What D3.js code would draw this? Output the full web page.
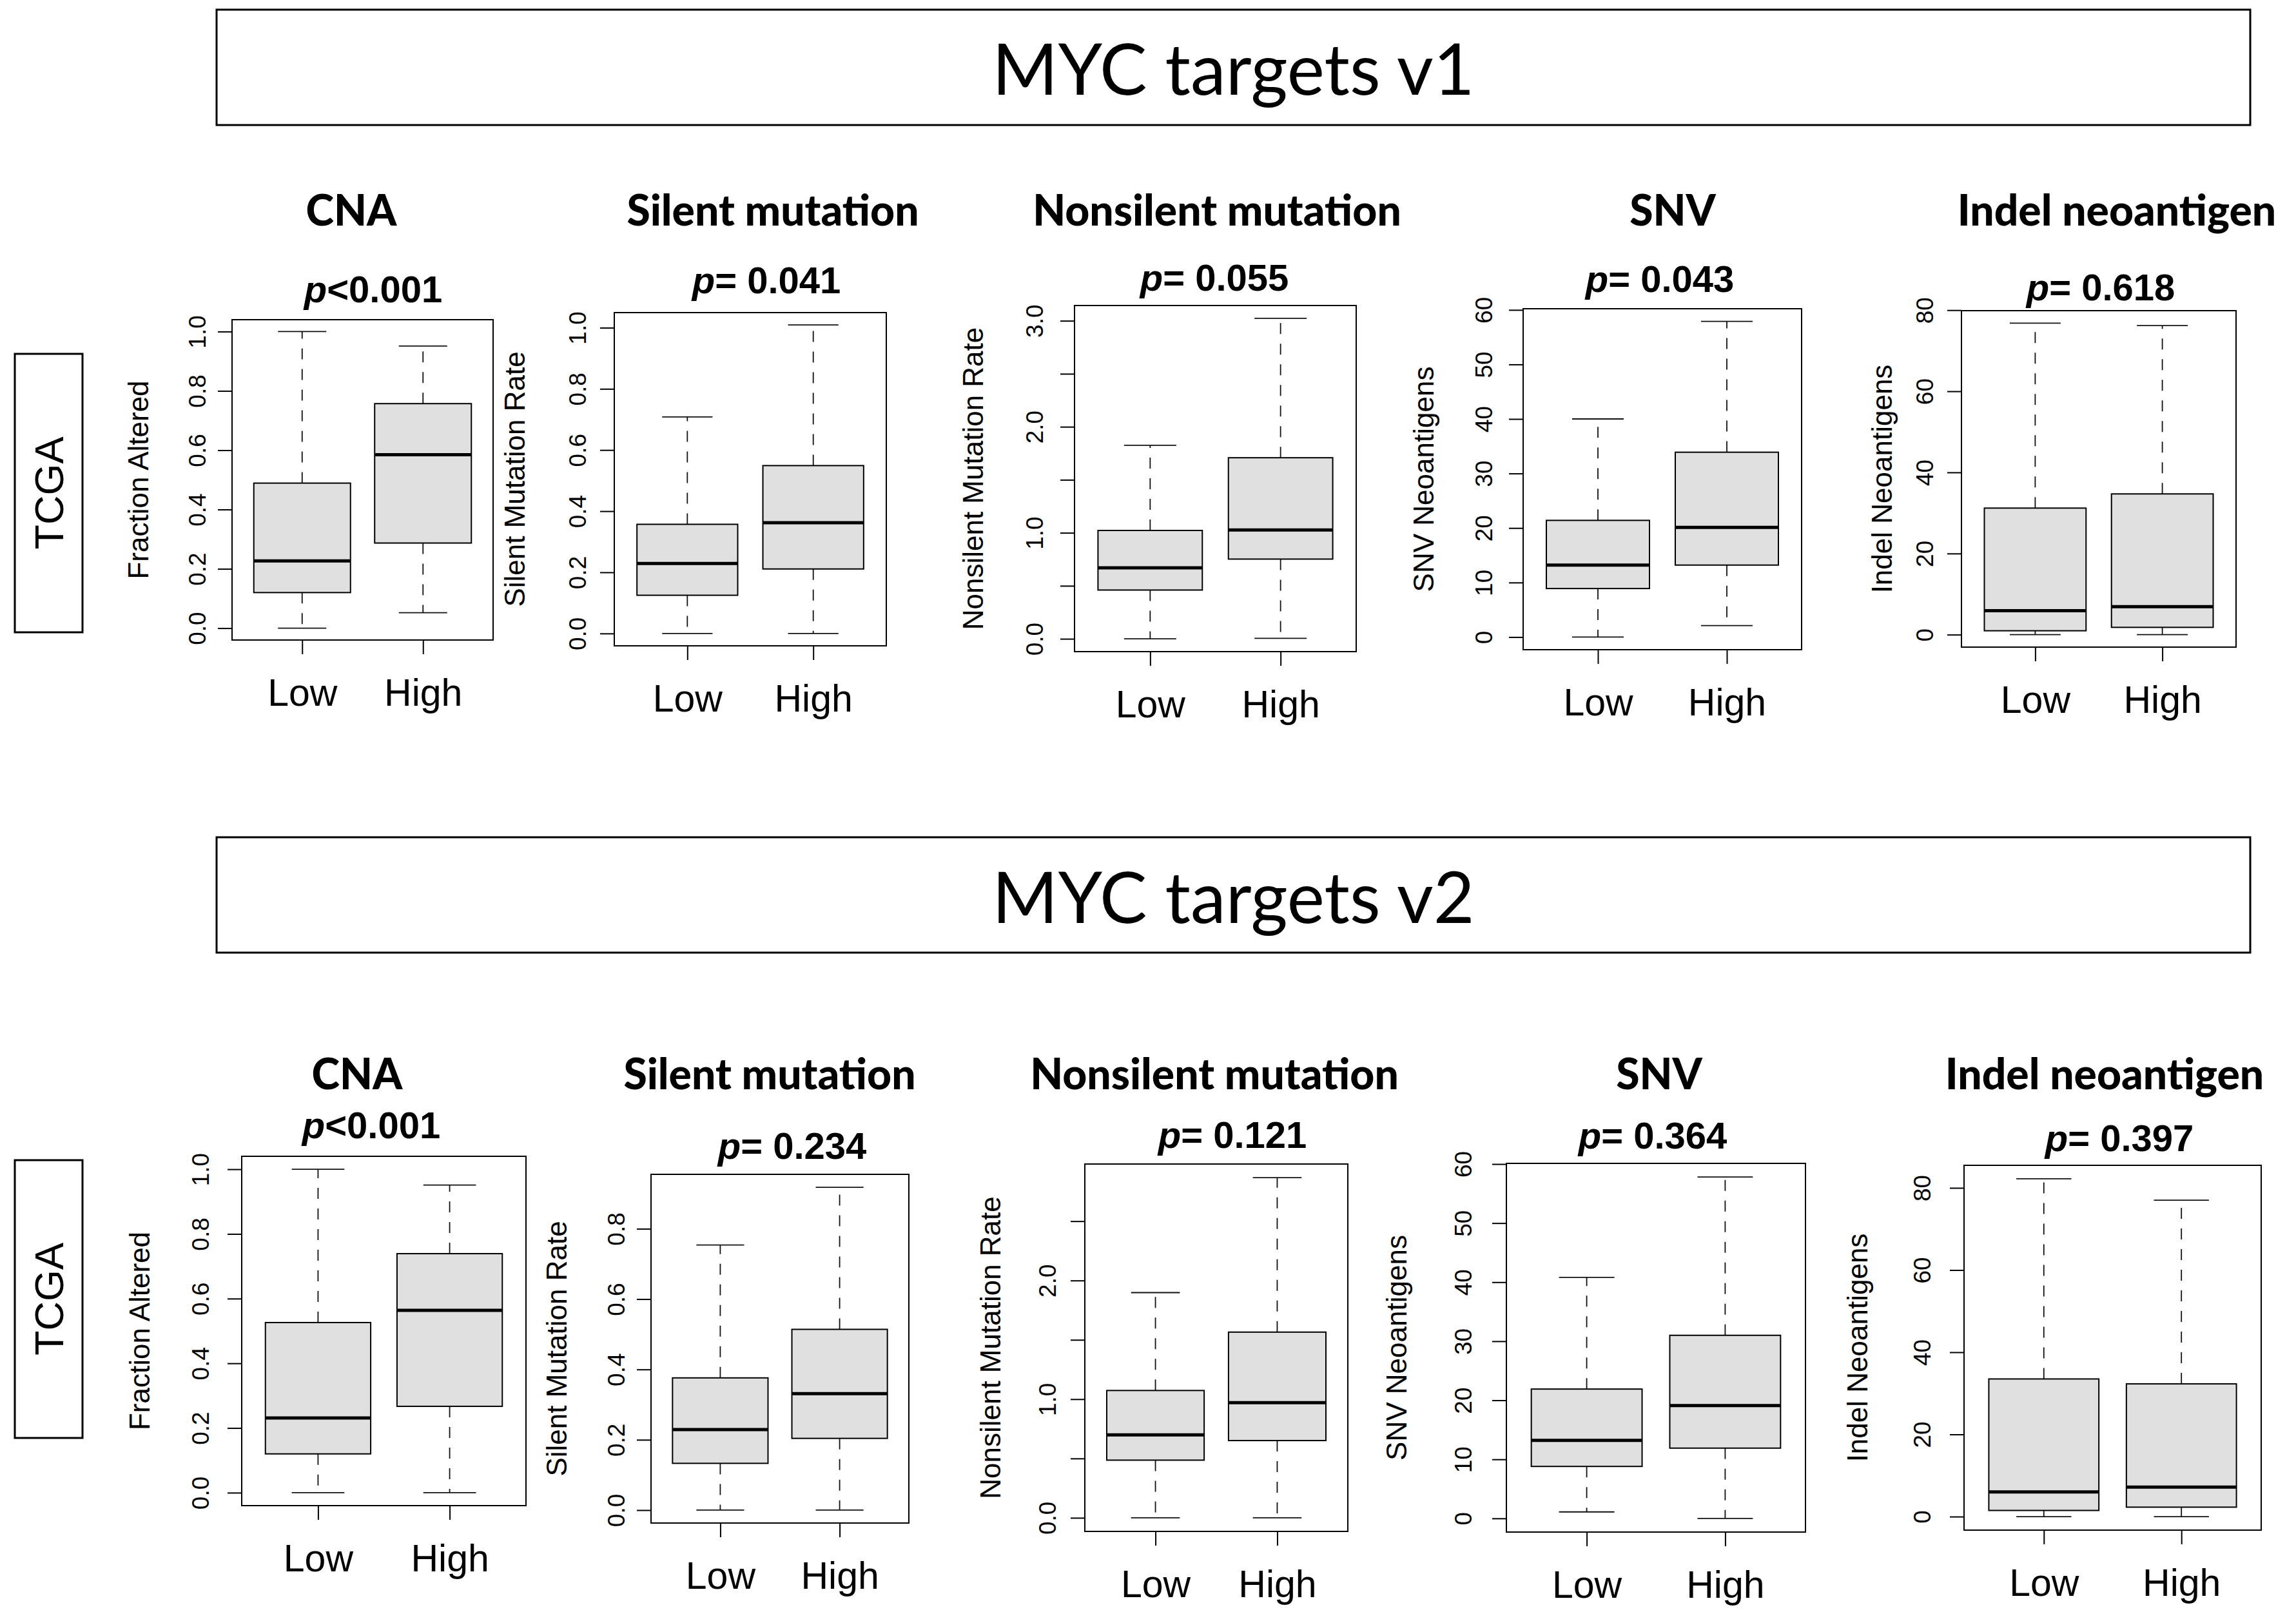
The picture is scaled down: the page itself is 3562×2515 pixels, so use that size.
<!DOCTYPE html>
<html>
<head>
<meta charset="utf-8">
<script src="https://cdn.jsdelivr.net/npm/d3@7"></script>
<style>
  body { margin: 0; background: #fff; }
</style>
</head>
<body>
<svg id="fig" width="3562" height="2515"></svg>
<script>
// boxplots of genomic features, Low vs High signature score

var groups = ["Low", "High"];
var signatures = ["MYC targets v1", "MYC targets v2"];
var cohort = "TCGA";
var metrics = ["CNA", "Silent mutation", "Nonsilent mutation", "SNV", "Indel neoantigen"];
var yTitles = ["Fraction Altered", "Silent Mutation Rate", "Nonsilent Mutation Rate", "SNV Neoantigens", "Indel Neoantigens"];

var pV1 = ["<0.001", "= 0.041", "= 0.055", "= 0.043", "= 0.618"];
var pV2 = ["<0.001", "= 0.234", "= 0.121", "= 0.364", "= 0.397"];

// [lower whisker, Q1, median, Q3, upper whisker] for Low, High
var v1_cna       = [[0, 0.12, 0.227, 0.489, 1.0],   [0.052, 0.287, 0.585, 0.757, 0.951]];
var v1_silent    = [[0, 0.125, 0.229, 0.357, 0.708],[0, 0.211, 0.362, 0.549, 1.009]];
var v1_nonsilent = [[0, 0.46, 0.669, 1.022, 1.825], [0.005, 0.752, 1.026, 1.708, 3.023]];
var v1_snv       = [[0, 8.9, 13.2, 21.4, 40.0],     [2.1, 13.2, 20.1, 33.9, 57.9]];
var v1_indel     = [[0, 0.96, 5.9, 31.2, 76.8],     [0, 1.8, 6.9, 34.7, 76.2]];

var v2_cna       = [[0, 0.12, 0.231, 0.526, 1.0],   [0, 0.267, 0.564, 0.739, 0.951]];
var v2_silent    = [[0, 0.133, 0.229, 0.376, 0.754],[0, 0.204, 0.331, 0.514, 0.918]];
var v2_nonsilent = [[0, 0.486, 0.699, 1.073, 1.898],[0, 0.651, 0.971, 1.565, 2.867]];
var v2_snv       = [[1.1, 8.8, 13.2, 21.9, 40.8],   [0, 11.9, 19.1, 31.0, 57.8]];
var v2_indel     = [[0, 1.5, 6.0, 33.5, 82.2],      [0, 2.3, 7.2, 32.3, 77.0]];

// y ticks and their labels ("" = tick without label)
var ticksFrac = [0, 0.2, 0.4, 0.6, 0.8, 1.0];
var labsFrac  = ["0.0", "0.2", "0.4", "0.6", "0.8", "1.0"];
var ticksSil2 = [0, 0.2, 0.4, 0.6, 0.8];
var labsSil2  = ["0.0", "0.2", "0.4", "0.6", "0.8"];
var ticksNon1 = [0, 0.5, 1, 1.5, 2, 2.5, 3];
var labsNon1  = ["0.0", "", "1.0", "", "2.0", "", "3.0"];
var ticksNon2 = [0, 0.5, 1, 1.5, 2, 2.5];
var labsNon2  = ["0.0", "", "1.0", "", "2.0", ""];
var ticksSnv  = [0, 10, 20, 30, 40, 50, 60];
var labsSnv   = ["0", "10", "20", "30", "40", "50", "60"];
var ticksInd  = [0, 20, 40, 60, 80];
var labsInd   = ["0", "20", "40", "60", "80"];

var rows = [
  { sig: signatures[0], p: pV1,
    stats: [v1_cna, v1_silent, v1_nonsilent, v1_snv, v1_indel],
    ticks: [ticksFrac, ticksFrac, ticksNon1, ticksSnv, ticksInd],
    labs:  [labsFrac, labsFrac, labsNon1, labsSnv, labsInd] },
  { sig: signatures[1], p: pV2,
    stats: [v2_cna, v2_silent, v2_nonsilent, v2_snv, v2_indel],
    ticks: [ticksFrac, ticksSil2, ticksNon2, ticksSnv, ticksInd],
    labs:  [labsFrac, labsSil2, labsNon2, labsSnv, labsInd] }
];

// page layout (pixels)
var layout = [
  { box: [336, 15, 3491, 194], titleY: 147, tcga: [23, 549, 128, 981], headY: 350,
    frames: [
      {x0: 360,  x1: 765,  y0: 496, y1: 993,  ylab: 215,  tick: 306,  tx: 545,  px: 579,  py: 469},
      {x0: 953,  x1: 1375, y0: 485, y1: 1002, ylab: 799,  tick: 896,  tx: 1199, px: 1189, py: 455},
      {x0: 1667, x1: 2104, y0: 474, y1: 1011, ylab: 1510, tick: 1605, tx: 1888, px: 1884, py: 451},
      {x0: 2363, x1: 2795, y0: 479, y1: 1008, ylab: 2209, tick: 2302, tx: 2595, px: 2575, py: 453},
      {x0: 3043, x1: 3469, y0: 482, y1: 1004, ylab: 2920, tick: 2986, tx: 3284, px: 3259, py: 466}
    ]},
  { box: [336, 1299, 3491, 1478], titleY: 1432, tcga: [23, 1800, 128, 2231], headY: 1690,
    frames: [
      {x0: 375,  x1: 816,  y0: 1794, y1: 2336, ylab: 217,  tick: 311,  tx: 554,  px: 576,  py: 1766},
      {x0: 1010, x1: 1410, y0: 1822, y1: 2363, ylab: 864,  tick: 956,  tx: 1194, px: 1229, py: 1798},
      {x0: 1683, x1: 2091, y0: 1806, y1: 2376, ylab: 1537, tick: 1625, tx: 1884, px: 1912, py: 1781},
      {x0: 2337, x1: 2801, y0: 1805, y1: 2377, ylab: 2167, tick: 2270, tx: 2574, px: 2564, py: 1782},
      {x0: 3047, x1: 3508, y0: 1808, y1: 2374, ylab: 2882, tick: 2982, tx: 3265, px: 3288, py: 1786}
    ]}
];

var ARIAL = "'Liberation Sans', Arial, sans-serif";
var CALIBRI = "Lato, 'Noto Sans', sans-serif";

var svg = d3.select("#fig");

function drawPanel(f, stats, ticks, labs, title, pText, yTitle, headY) {
  var g = svg.append("g");

  // R style limits: data range padded 4%
  var lo = d3.min(stats, function(s) { return s[0]; });
  var hi = d3.max(stats, function(s) { return s[4]; });
  var pad = (hi - lo) * 0.04;
  var y = d3.scaleLinear().domain([lo - pad, hi + pad]).range([f.y1, f.y0]);
  var x = d3.scaleLinear().domain([0.42, 2.58]).range([f.x0, f.x1]);

  var bw = x(1.4) - x(1);   // half box width
  var cw = x(1.2) - x(1);   // half staple width

  var bx = g.selectAll(".bx").data(stats).enter().append("g");

  // whiskers
  bx.append("line")
    .attr("x1", function(d, i) { return x(i + 1); })
    .attr("x2", function(d, i) { return x(i + 1); })
    .attr("y1", function(d) { return y(d[3]); })
    .attr("y2", function(d) { return y(d[4]); })
    .attr("stroke", "#111").attr("stroke-width", 1.8).attr("stroke-dasharray", "17,15");
  bx.append("line")
    .attr("x1", function(d, i) { return x(i + 1); })
    .attr("x2", function(d, i) { return x(i + 1); })
    .attr("y1", function(d) { return y(d[1]); })
    .attr("y2", function(d) { return y(d[0]); })
    .attr("stroke", "#111").attr("stroke-width", 1.8).attr("stroke-dasharray", "17,15");
  // staples
  [0, 4].forEach(function(k) {
    bx.append("line")
      .attr("x1", function(d, i) { return x(i + 1) - cw; })
      .attr("x2", function(d, i) { return x(i + 1) + cw; })
      .attr("y1", function(d) { return y(d[k]); })
      .attr("y2", function(d) { return y(d[k]); })
      .attr("stroke", "#111").attr("stroke-width", 1.8);
  });
  // boxes
  bx.append("rect")
    .attr("x", function(d, i) { return x(i + 1) - bw; })
    .attr("width", 2 * bw)
    .attr("y", function(d) { return y(d[3]); })
    .attr("height", function(d) { return y(d[1]) - y(d[3]); })
    .attr("fill", "#e0e0e0").attr("stroke", "#000").attr("stroke-width", 2);
  // medians
  bx.append("line")
    .attr("x1", function(d, i) { return x(i + 1) - bw; })
    .attr("x2", function(d, i) { return x(i + 1) + bw; })
    .attr("y1", function(d) { return y(d[2]); })
    .attr("y2", function(d) { return y(d[2]); })
    .attr("stroke", "#000").attr("stroke-width", 5);

  // frame
  g.append("rect")
    .attr("x", f.x0).attr("y", f.y0)
    .attr("width", f.x1 - f.x0).attr("height", f.y1 - f.y0)
    .attr("fill", "none").attr("stroke", "#000").attr("stroke-width", 2);

  // y axis, labels parallel to the axis
  var ya = g.append("g")
    .attr("transform", "translate(" + f.x0 + ",0)")
    .call(d3.axisLeft(y).tickValues(ticks).tickSize(22)
      .tickFormat(function(d, i) { return labs[i]; }));
  ya.select(".domain").remove();
  ya.selectAll("line").attr("stroke-width", 2);
  ya.attr("font-family", ARIAL).attr("font-size", 37);
  ya.selectAll("text")
    .attr("x", 0).attr("dy", "0.35em")
    .attr("fill", "#000")
    .attr("text-anchor", "middle")
    .attr("transform", "translate(" + (f.tick - f.x0) + ",0) rotate(-90)");

  // x axis
  var xa = g.append("g")
    .attr("transform", "translate(0," + f.y1 + ")")
    .call(d3.axisBottom(x).tickValues([1, 2]).tickSize(22)
      .tickFormat(function(d, i) { return groups[i]; }));
  xa.select(".domain").remove();
  xa.selectAll("line").attr("stroke-width", 2);
  xa.attr("font-family", ARIAL).attr("font-size", 59);
  xa.selectAll("text").attr("y", 102).attr("dy", null).attr("fill", "#000");

  // y title
  g.append("text")
    .attr("transform", "translate(" + f.ylab + "," + ((f.y0 + f.y1) / 2) + ") rotate(-90)")
    .attr("dy", "0.35em")
    .attr("text-anchor", "middle")
    .attr("font-family", ARIAL).attr("font-size", 44)
    .text(yTitle);

  // panel heading and p value
  g.append("text")
    .attr("x", f.tx).attr("y", headY)
    .attr("text-anchor", "middle")
    .attr("font-family", CALIBRI).attr("font-weight", 900).attr("font-size", 66)
    .text(title);
  var pt = g.append("text")
    .attr("x", f.px).attr("y", f.py)
    .attr("text-anchor", "middle")
    .attr("font-family", ARIAL).attr("font-weight", "bold").attr("font-size", 58);
  pt.append("tspan").attr("font-style", "italic").text("p");
  pt.append("tspan").text(pText);
}

rows.forEach(function(r, ri) {
  var L = layout[ri];

  // signature banner
  svg.append("rect")
    .attr("x", L.box[0]).attr("y", L.box[1])
    .attr("width", L.box[2] - L.box[0]).attr("height", L.box[3] - L.box[1])
    .attr("fill", "none").attr("stroke", "#000").attr("stroke-width", 3);
  svg.append("text")
    .attr("x", (L.box[0] + L.box[2]) / 2).attr("y", L.titleY)
    .attr("text-anchor", "middle")
    .attr("font-family", CALIBRI).attr("font-size", 110)
    .text(r.sig);

  // cohort tag
  svg.append("rect")
    .attr("x", L.tcga[0]).attr("y", L.tcga[1])
    .attr("width", L.tcga[2] - L.tcga[0]).attr("height", L.tcga[3] - L.tcga[1])
    .attr("fill", "none").attr("stroke", "#000").attr("stroke-width", 3);
  svg.append("text")
    .attr("transform", "translate(" + ((L.tcga[0] + L.tcga[2]) / 2) + "," + ((L.tcga[1] + L.tcga[3]) / 2) + ") rotate(-90)")
    .attr("dy", "0.35em")
    .attr("text-anchor", "middle")
    .attr("font-family", ARIAL).attr("font-size", 63)
    .text(cohort);

  for (var i = 0; i < metrics.length; i++) {
    drawPanel(L.frames[i], r.stats[i], r.ticks[i], r.labs[i], metrics[i], r.p[i], yTitles[i], L.headY);
  }
});
</script>
</body>
</html>
